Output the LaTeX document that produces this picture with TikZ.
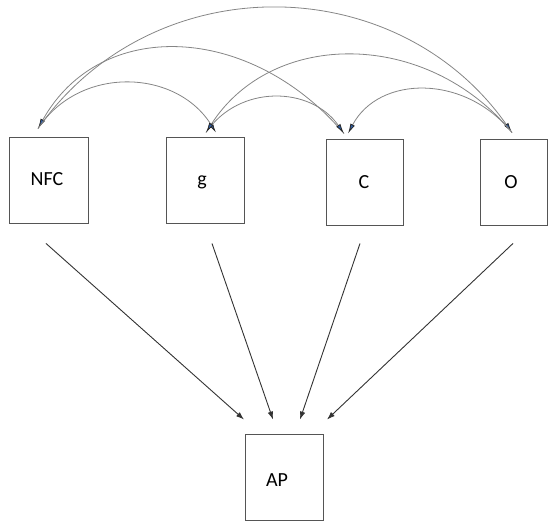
\documentclass[tikz,border=0pt]{standalone}
\usepackage{fontspec}
\setmainfont{Carlito}
\usetikzlibrary{arrows.meta,calc}
\definecolor{arcgray}{HTML}{858585}
\definecolor{headblue}{HTML}{2F5DA3}
\definecolor{boxgray}{HTML}{555555}
\definecolor{reggray}{HTML}{333333}
\begin{document}
\begin{tikzpicture}[x=1pt,y=-1pt,
  box/.style={draw=boxgray,line width=0.9pt,minimum height=86pt,inner sep=0pt},
  lbl/.style={font=\fontsize{20}{20}\selectfont,anchor=base,inner sep=0pt},
  cov/.style={draw=arcgray,line width=0.8pt,
    -{Latex[length=10pt,width=5pt,color=black!85,fill=headblue]}},
  reg/.style={draw=reggray,line width=0.9pt,-{Latex[length=8pt,width=5.5pt]}}]
\useasboundingbox (0,0) rectangle (548,521);

% observed variables
\node[box,minimum width=79pt] (nfc) at (48.5,180) {};
\node[box,minimum width=78pt] (g)   at (205,180)  {};
\node[box,minimum width=77pt] (c)   at (364.5,182) {};
\node[box,minimum width=67pt] (o)   at (513.5,182) {};
\node[box,minimum width=78pt] (ap)  at (284,477)  {};

\node[lbl] (nfcl) at (47,186)  {NFC};
\node[lbl] (gl)   at (202,186) {g};
\node[lbl] (cl)   at (364,189) {C};
\node[lbl] (ol)   at (511,189) {O};
\node[lbl] (apl)  at (277,486) {AP};

% attachment points of the covariance arcs
\coordinate (nfcin) at ($(nfc.north)+(-10.5,-8)$);
\coordinate (gL)    at ($(g.north)+(11,-4)$);
\coordinate (gR)    at ($(g.north)+(1,-4)$);
\coordinate (cL)    at ($(c.north)+(-20.5,-5)$);
\coordinate (cR)    at ($(c.north)+(-16.5,-5)$);
\coordinate (oin)   at ($(o.north)+(-1.5,-6)$);

% covariances
\draw[cov] (nfcin) .. controls (80,65) and (176,69) .. (gL);
\draw[cov] (cL) .. controls (250,23) and (100,17) .. (nfcin);
\draw[cov] (nfcin) .. controls (153,-35) and (397,-31) .. (oin);
\draw[cov] (gR) .. controls (239,84) and (311,86) .. (cL);
\draw[cov] (oin) .. controls (427,29) and (272,29) .. (gR);
\draw[cov] (oin) .. controls (465,74) and (379,75) .. (cR);

% regressions on AP
\draw[reg] ($(nfc.south)+(-2.5,20)$) -- ($(ap.north)+(-40,-14)$);
\draw[reg] ($(g.south)+(7,20)$) -- ($(ap.north)+(-11,-14)$);
\draw[reg] ($(c.south)+(-4.5,18)$) -- ($(ap.north)+(16,-14)$);
\draw[reg] ($(o.south)+(-0.5,18)$) -- ($(ap.north)+(43,-14)$);
\end{tikzpicture}
\end{document}
